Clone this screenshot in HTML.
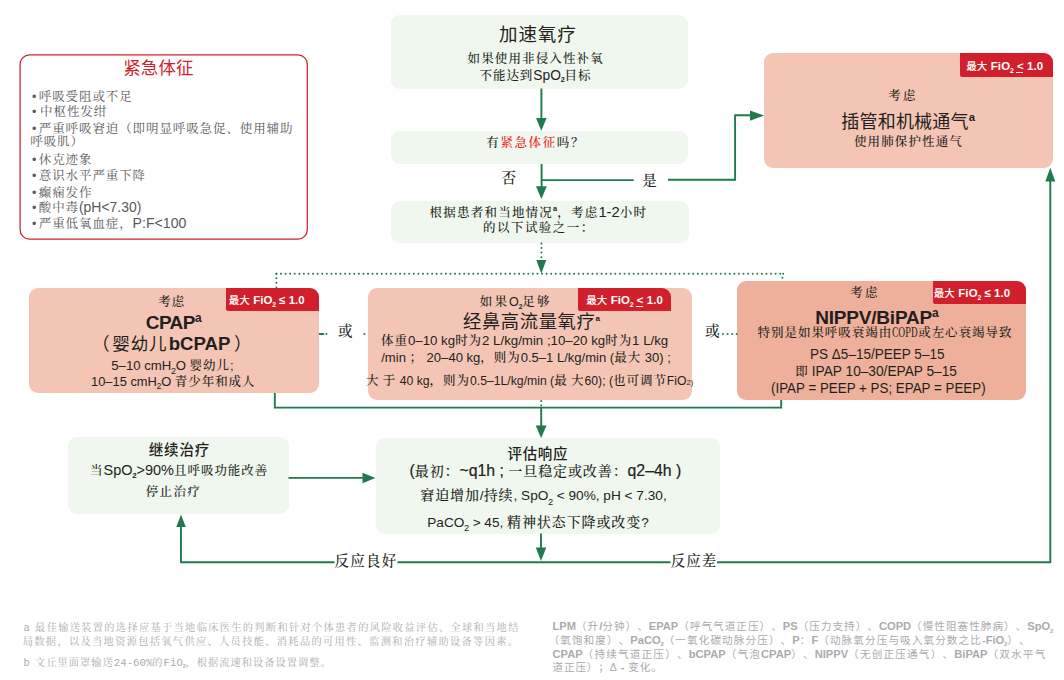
<!DOCTYPE html>
<html lang="zh-CN">
<head>
<meta charset="utf-8">
<title>加速氧疗流程图</title>
<style>

html,body{margin:0;padding:0;background:#fff;}
.l{position:absolute;white-space:nowrap;line-height:1.3;text-spacing-trim:space-all;}
.G b{letter-spacing:0;font-size:1.05em;}
.s{font-family:"Liberation Sans","Noto Serif CJK SC",serif;font-weight:500;}
.h{font-family:"Liberation Sans","Noto Sans CJK SC",sans-serif;}
.a{font-size:calc(var(--k,1)*1em);letter-spacing:0;}
.bu{font-family:"Liberation Sans",sans-serif;font-size:12.5px;letter-spacing:0;margin-right:2.4px;}
.l sub{font-size:.54em;vertical-align:baseline;position:relative;top:.4em;letter-spacing:0;font-weight:bold;margin:0 -.03em;}
.l sub.r{font-size:.68em;top:.45em;font-weight:normal;}
.vb .a{-webkit-text-stroke:.2px currentColor;}
.l sub.bs{font-size:.6em;top:.42em;}
.h b.B{font-size:1.09em;}
.l sup{vertical-align:baseline;position:relative;letter-spacing:0;}
sup.t{font-size:.5em;top:-.93em;font-weight:bold;}
sup.b{font-size:.63em;top:-.6em;font-weight:bold;}
.m{font-size:.62em;}
.x{display:inline-block;white-space:pre;transform-origin:0 50%;font-size:14.5px;letter-spacing:0;}
.n{font-family:"Noto Serif CJK SC",serif;display:inline-block;transform:scaleX(.72);transform-origin:0 50%;letter-spacing:0;margin-right:-.78em;}
.n2{font-family:"Liberation Mono",monospace;font-size:1.05em;letter-spacing:-.9px;}
.l u{text-decoration:none;position:relative;}
.l u:after{content:"";position:absolute;left:-.05em;width:.62em;bottom:-.12em;height:.1em;background:currentColor;}

body{width:1064px;height:680px;position:relative;overflow:hidden;}
.box{position:absolute;border-radius:9px;}
.g{background:#eff7ee;}
.p{background:#f4c5b5;}
.p2{background:#eeb09b;}
.badge{position:absolute;background:#d1202c;border-top-right-radius:9px;border-bottom-left-radius:2px;}
svg.ln{position:absolute;left:0;top:0;}
</style>
</head>
<body>
<div class="box g" style="left:390.5px;top:15px;width:297.5px;height:73.75px;"></div>
<div class="box g" style="left:390.5px;top:131.25px;width:297.5px;height:33px;"></div>
<div class="box g" style="left:390.5px;top:201.25px;width:298px;height:41.25px;"></div>
<div class="box p" style="left:763.75px;top:53.25px;width:289.25px;height:114.75px;"></div>
<div class="box p" style="left:29.25px;top:287.75px;width:289.5px;height:105.25px;"></div>
<div class="box p" style="left:368px;top:288px;width:324.25px;height:112.25px;"></div>
<div class="box p2" style="left:737px;top:280.75px;width:289.25px;height:119.5px;"></div>
<div class="box g" style="left:68.25px;top:437px;width:220.25px;height:76.75px;"></div>
<div class="box g" style="left:375.75px;top:437.5px;width:344.25px;height:96.25px;"></div>

<div class="badge" style="left:960px;top:53.25px;width:93px;height:23.25px;"></div>
<div class="badge" style="left:225.5px;top:287.75px;width:93.25px;height:23px;"></div>
<div class="badge" style="left:578px;top:288px;width:92.75px;height:23.25px;"></div>
<div class="badge" style="left:933.25px;top:280.75px;width:93px;height:23px;"></div>

<svg class="ln" width="1064" height="680" viewBox="0 0 1064 680">
<rect x="20.1" y="54.85" width="287.2" height="184.35" rx="9.5" ry="9.5" fill="none" stroke="#d1202c" stroke-width="1.25"/>
<g fill="none" stroke="#217a4e" stroke-width="1.9">
<path d="M541.4 88.5V120"/>
<path d="M541.6 164V188"/>
<path d="M541.6 180.1H633.75"/>
<path d="M668 179.7H735.1V115.2H752"/>
<path d="M274.8 393V407.6H781.2V400"/>
<path d="M541.2 407.6V427"/>
<path d="M288.5 477.9H364"/>
<path d="M541 533.5V549"/>
<path d="M181 525V562.2H334.5"/>
<path d="M397.5 562.2H670.5"/>
<path d="M717 562.2H1050.3V180"/>
</g>
<g fill="#217a4e">
<path d="M536 118H546.6L541.3 130.8Z"/>
<path d="M536 186.25H546.8L541.4 199Z"/>
<path d="M750 110.5V120.7L764 115.6Z"/>
<path d="M536.3 260H546.3L541.3 273.6Z"/>
<path d="M535.75 425.5H546.5L541.1 438Z"/>
<path d="M362.5 472.8V483.2L375.5 478Z"/>
<path d="M535.75 547.5H546.25L541 561Z"/>
<path d="M176.25 527H185.75L181 514.5Z"/>
<path d="M1045.3 181.5H1055.3L1050.3 167.8Z"/>
</g>
<g fill="none" stroke="#217a4e" stroke-width="2" stroke-linecap="round" stroke-dasharray="0 4.58">
<path d="M541.4 243.4V259"/>
<path d="M276.4 273.7V288"/>
<path d="M276.4 273.7H784"/>
<path d="M782.4 277.8V279"/>
<path d="M541.2 401V407"/>
<path d="M718.4 333.9H738"/>
</g>
<g fill="none" stroke="#217a4e" stroke-width="2" stroke-linecap="round">
<path d="M319.6 333.9H323.4"/>
<path d="M326.4 333.9H326.41"/>
<path d="M364.4 333.9H364.41"/>
<path d="M783.2 273.7h.01"/>
</g>
</svg>

<div class="l h" style="left:123.25px;top:57.25px;font-size:17.5px;letter-spacing:0.08px;color:#d1202c;">紧急体征</div>
<div class="l s" style="left:32.00px;top:88.62px;font-size:12.5px;letter-spacing:0.90px;color:#58595b;font-weight:400;"><span class="bu">•</span>呼吸受阻或不足</div>
<div class="l s" style="left:32.00px;top:104.25px;font-size:12.5px;letter-spacing:0.90px;color:#58595b;font-weight:400;"><span class="bu">•</span><span style="margin-left:1.3px"></span>中枢性发绀</div>
<div class="l s" style="left:32.00px;top:120.88px;font-size:12.5px;letter-spacing:0.90px;color:#58595b;font-weight:400;"><span class="bu">•</span>严重呼吸窘迫（即明显呼吸急促、使用辅助</div>
<div class="l s" style="left:30.25px;top:133.88px;font-size:12.5px;letter-spacing:0.90px;color:#58595b;font-weight:400;">呼吸肌）</div>
<div class="l s" style="left:32.00px;top:152.38px;font-size:12.5px;letter-spacing:0.90px;color:#58595b;font-weight:400;"><span class="bu">•</span>休克迹象</div>
<div class="l s" style="left:32.00px;top:168.38px;font-size:12.5px;letter-spacing:0.90px;color:#58595b;font-weight:400;"><span class="bu">•</span>意识水平严重下降</div>
<div class="l s" style="left:32.00px;top:184.88px;font-size:12.5px;letter-spacing:0.90px;color:#58595b;font-weight:400;"><span class="bu">•</span>癫痫发作</div>
<div class="l s" style="left:32.00px;top:197.50px;font-size:12.5px;letter-spacing:0.90px;--k:1.115;color:#58595b;font-weight:400;"><span class="bu">•</span>酸中毒<span class="a">(pH&lt;7.30)</span></div>
<div class="l s" style="left:32.00px;top:213.80px;font-size:12.5px;letter-spacing:0.90px;--k:1.131;color:#58595b;font-weight:400;"><span class="bu">•</span>严重低氧血症，<span class="a">P:F&lt;100</span></div>
<div class="l h" style="left:499.00px;top:23.25px;font-size:18.5px;letter-spacing:0.92px;color:#231f20;">加速氧疗</div>
<div class="l s" style="left:467.50px;top:51.25px;font-size:12.5px;letter-spacing:1.14px;color:#231f20;">如果使用非侵入性补氧</div>
<div class="l s" style="left:479.50px;top:66.62px;font-size:12.5px;letter-spacing:0.95px;--k:1.100;color:#231f20;">不能达到<span class="a">SpO</span><sub><span class="a">2</span></sub>目标</div>
<div class="l s" style="left:486.25px;top:135.25px;font-size:12.5px;letter-spacing:1.62px;color:#231f20;">有<span style="color:#ed1c24">紧急体征</span>吗？</div>
<div class="l s" style="left:501.62px;top:168.50px;font-size:14.5px;color:#231f20;">否</div>
<div class="l s" style="left:642.25px;top:172.38px;font-size:14.5px;color:#231f20;">是</div>
<div class="l s" style="left:429.50px;top:202.50px;font-size:12.5px;letter-spacing:1.23px;--k:1.180;color:#231f20;">根据患者和当地情况<sup class="t"><span class="a">a</span></sup>，考虑<span class="a">1-2</span>小时</div>
<div class="l s" style="left:483.00px;top:219.62px;font-size:12.5px;letter-spacing:1.46px;color:#231f20;">的以下试验之一：</div>
<div class="l s" style="left:888.25px;top:88.25px;font-size:12.5px;letter-spacing:2.25px;color:#231f20;">考虑</div>
<div class="l h" style="left:841.25px;top:110.88px;font-size:18px;letter-spacing:0.21px;color:#231f20;">插管和机械通气<sup class="b">a</sup></div>
<div class="l s" style="left:854.00px;top:134.25px;font-size:12.5px;letter-spacing:1.11px;color:#231f20;">使用肺保护性通气</div>
<div class="l s" style="left:158.25px;top:293.50px;font-size:12.5px;letter-spacing:1.00px;color:#231f20;">考虑</div>
<div class="l h" style="left:145.75px;top:310.75px;font-size:19px;letter-spacing:-0.56px;color:#231f20;font-weight:bold;">CPAP<sup class="b">a</sup></div>
<div class="l h" style="left:91.88px;top:332.38px;font-size:17.6px;letter-spacing:0.80px;color:#231f20;">（<span style="margin-left:2px"></span>婴幼儿<b style="font-size:1.06em;letter-spacing:0;margin:0 3.5px 0 1.2px">bCPAP</b>）</div>
<div class="l s" style="left:111.25px;top:356.88px;font-size:12.5px;letter-spacing:0.95px;--k:1.054;color:#231f20;"><span class="a">5–10 cmH</span><sub class="r"><span class="a">2</span></sub><span class="a">O </span>婴幼儿<span class="a">;</span></div>
<div class="l s" style="left:91.00px;top:373.50px;font-size:12.5px;letter-spacing:0.95px;--k:1.031;color:#231f20;"><span class="a">10–15 cmH</span><sub class="r"><span class="a">2</span></sub><span class="a">O </span>青少年和成人</div>
<div class="l s" style="left:338.00px;top:322.25px;font-size:14.5px;color:#231f20;">或</div>
<div class="l s" style="left:479.75px;top:293.88px;font-size:12.5px;letter-spacing:2.17px;color:#231f20;">如果<span class="a">O</span><sub><span class="a">2</span></sub>足够</div>
<div class="l h" style="left:463.00px;top:310.25px;font-size:18.3px;letter-spacing:0.64px;color:#231f20;">经鼻高流量氧疗<sup class="t" style="font-size:.44em">a</sup></div>
<div class="l s" style="left:381.00px;top:331.75px;font-size:12.5px;letter-spacing:0.95px;--k:1.062;color:#231f20;">体重<span class="a">0–10 kg</span>时为<span class="a">2 L/kg/min ;10–20 kg</span>时为<span class="a">1 L/kg</span></div>
<div class="l s" style="left:381.25px;top:350.25px;font-size:12.5px;letter-spacing:0.95px;--k:1.044;color:#231f20;"><span class="a">/min </span>；<span class="a"> 20–40 kg</span>，则为<span class="a">0.5–1 L/kg/min (</span>最大<span class="a"> 30) ;</span></div>
<div class="l s" style="left:366.00px;top:373.00px;font-size:12.5px;letter-spacing:0.95px;--k:0.978;color:#231f20;">大<span class="a"> </span>于<span class="a"> 40 kg</span>，则为<span class="a">0.5–1L/kg/min (</span>最<span class="a"> </span>大<span class="a">60); (</span>也可调节<span class="a">FiO</span><span class="m"><span class="a">2</span>)</span></div>
<div class="l s" style="left:704.88px;top:321.88px;font-size:14.5px;color:#231f20;">或</div>
<div class="l s" style="left:850.25px;top:285.25px;font-size:12.5px;letter-spacing:2.25px;color:#231f20;">考虑</div>
<div class="l h" style="left:815.25px;top:305.75px;font-size:19px;letter-spacing:-0.20px;color:#231f20;font-weight:bold;">NIPPV/BiPAP<sup class="b">a</sup></div>
<div class="l s" style="left:757.50px;top:323.75px;font-size:12.5px;letter-spacing:0.97px;color:#231f20;">特别是如果呼吸衰竭由<span class="n">COPD</span>或左心衰竭导致</div>
<div class="l s" style="left:810.25px;top:344.88px;font-size:14.5px;transform:scaleX(0.9336);transform-origin:0 0;color:#231f20;">PS Δ5–15/PEEP 5–15</div>
<div class="l s" style="left:795.25px;top:362.12px;font-size:12.5px;color:#231f20;">即<span class="x" style="width:148.9px;transform:scaleX(.944)"> IPAP 10–30/EPAP 5–15</span></div>
<div class="l s" style="left:770.50px;top:379.00px;font-size:14.5px;transform:scaleX(0.9221);transform-origin:0 0;color:#231f20;">(IPAP = PEEP + PS; EPAP = PEEP)</div>
<div class="l h" style="left:148.75px;top:441.25px;font-size:14.5px;letter-spacing:0.83px;color:#231f20;font-weight:500;">继续治疗</div>
<div class="l s" style="left:90.00px;top:461.00px;font-size:12.5px;letter-spacing:0.95px;--k:1.163;color:#231f20;">当<span class="a">SpO</span><sub><span class="a">2</span></sub><span class="a">&gt;90%</span>且呼吸功能改善</div>
<div class="l s" style="left:145.75px;top:484.25px;font-size:12.5px;letter-spacing:1.33px;color:#231f20;">停止治疗</div>
<div class="l h" style="left:507.50px;top:445.25px;font-size:14.5px;letter-spacing:0.67px;color:#231f20;font-weight:500;">评估响应</div>
<div class="l s vb" style="left:409.50px;top:461.00px;font-size:14px;letter-spacing:0.90px;--k:1.131;color:#231f20;"><span class="a">(</span>最初：<span class="a">~q1h ; </span>一旦稳定或改善：<span class="a">q2–4h )</span></div>
<div class="l s" style="left:420.25px;top:486.25px;font-size:14px;letter-spacing:0.90px;--k:0.975;color:#231f20;">窘迫增加<span class="a">/</span>持续<span class="a">, SpO</span><sub class="r"><span class="a">2</span></sub><span class="a"> &lt; 90%, pH &lt; 7.30,</span></div>
<div class="l s" style="left:427.25px;top:513.12px;font-size:14px;letter-spacing:0.90px;--k:0.972;color:#231f20;"><span class="a">PaCO</span><sub class="r"><span class="a">2</span></sub><span class="a"> &gt; 45, </span>精神状态下降或改变<span class="a">?</span></div>
<div class="l s" style="left:334.50px;top:551.62px;font-size:14.5px;letter-spacing:1.25px;color:#231f20;">反应良好</div>
<div class="l s" style="left:670.75px;top:552.38px;font-size:14.5px;letter-spacing:1.00px;color:#231f20;">反应差</div>
<div class="l h" style="left:966.25px;top:58.95px;font-size:10.5px;letter-spacing:0.11px;color:#fff;font-weight:500;">最大<b class="B"> FiO<sub class="bs">2</sub> <u>&lt;</u> 1.0</b></div>
<div class="l h" style="left:228.75px;top:293.20px;font-size:10.5px;letter-spacing:0.07px;color:#fff;font-weight:500;">最大<b class="B"> FiO<sub class="bs">2</sub> ≤ 1.0</b></div>
<div class="l h" style="left:586.25px;top:292.95px;font-size:10.5px;letter-spacing:0.09px;color:#fff;font-weight:500;">最大<b class="B"> FiO<sub class="bs">2</sub> <u>&lt;</u> 1.0</b></div>
<div class="l h" style="left:933.75px;top:286.20px;font-size:10.5px;letter-spacing:0.11px;color:#fff;font-weight:500;">最大<b class="B"> FiO<sub class="bs">2</sub> ≤ 1.0</b></div>
<div class="l s" style="left:23.75px;top:621.25px;font-size:10.2px;letter-spacing:1.35px;color:#a9abae;font-weight:400;"><span style="margin-right:5.7px"><span class="a">a</span></span>最佳输送装置的选择应基于当地临床医生的判断和针对个体患者的风险收益评估、全球和当地结</div>
<div class="l s" style="left:22.75px;top:635.00px;font-size:10.2px;letter-spacing:1.36px;color:#a9abae;font-weight:400;">局数据，以及当地资源包括氧气供应、人员技能、消耗品的可用性、监测和治疗辅助设备等因素。</div>
<div class="l s" style="left:23.75px;top:655.50px;font-size:10.2px;letter-spacing:1.05px;color:#a9abae;font-weight:400;"><span style="margin-right:5.7px"><span class="a">b</span></span>文丘里面罩输送<span class="n2"><span class="a">24-60%</span></span>的<span class="n2"><span class="a">FiO</span></span><sub><span class="a">2</span></sub>，根据流速和设备设置调整。</div>
<div class="l h G" style="left:552.50px;top:619.38px;font-size:10.6px;letter-spacing:1.02px;color:#a9abae;"><b>LPM</b>（升<b>/</b>分钟）、<b>EPAP</b>（呼气气道正压）、<b>PS</b>（压力支持）、<b>COPD</b>（慢性阻塞性肺病）、<b>SpO<sub>2</sub></b></div>
<div class="l h G" style="left:548.50px;top:633.00px;font-size:10.6px;letter-spacing:1.10px;color:#a9abae;">（氧饱和度）、<b>PaCO<sub>2</sub></b>（一氧化碳动脉分压）、<b>P</b>：<b>F</b>（动脉氧分压与吸入氧分数之比<b>-FiO<sub>2</sub></b>）、</div>
<div class="l h G" style="left:552.50px;top:646.75px;font-size:10.6px;letter-spacing:1.20px;color:#a9abae;"><b>CPAP</b>（持续气道正压）、<b>bCPAP</b>（气泡<b>CPAP</b>）、<b>NIPPV</b>（无创正压通气）、<b>BiPAP</b>（双水平气</div>
<div class="l h G" style="left:552.50px;top:660.00px;font-size:10.6px;letter-spacing:0.85px;color:#a9abae;">道正压）；Δ <b>-</b> 变化。</div>
</body>
</html>
